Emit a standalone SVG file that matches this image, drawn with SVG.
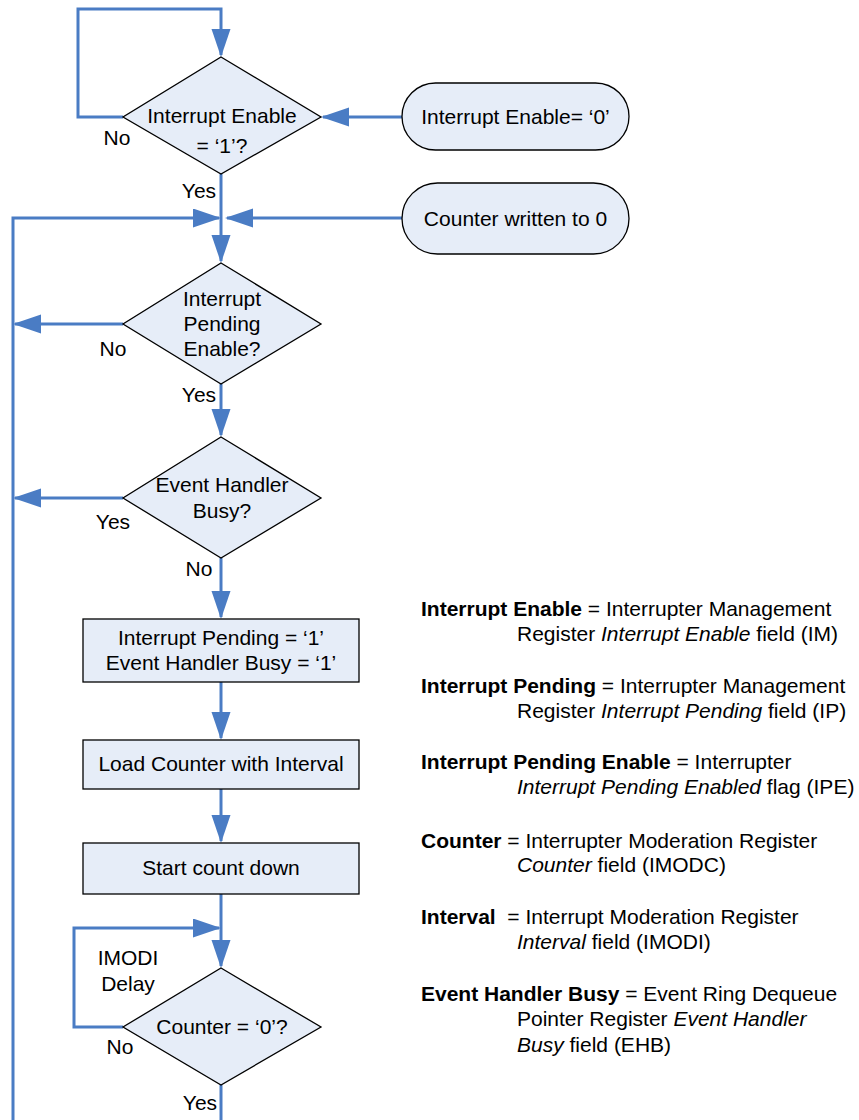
<svg xmlns="http://www.w3.org/2000/svg" width="859" height="1120" viewBox="0 0 859 1120">
<style>
text{font-family:"Liberation Sans",Arial,sans-serif;font-size:21px;fill:#000}
.c{text-anchor:middle}
.node{fill:#E6EDF8;stroke:#000;stroke-width:1.3}
.conn{fill:none;stroke:#4A7CC4;stroke-width:3}
.b{font-weight:bold}
.i{font-style:italic}
</style>
<defs>
<marker id="ah" markerUnits="userSpaceOnUse" markerWidth="30" markerHeight="20" refX="26" refY="9.5" orient="auto">
<path d="M0,0 L28,9.5 L0,19 Z" fill="#4A7CC4"/>
</marker>
</defs>
<rect width="859" height="1120" fill="#fff"/>
<g id="connectors">
<path class="conn" d="M123,117 H78 V9 H221 V55" marker-end="url(#ah)"/>
<path class="conn" d="M402,117 H323" marker-end="url(#ah)"/>
<path class="conn" d="M221,174 V261" marker-end="url(#ah)"/>
<path class="conn" d="M402,218 H227" marker-end="url(#ah)"/>
<path class="conn" d="M13,1120 V218 H219" marker-end="url(#ah)"/>
<path class="conn" d="M123,324 H15" marker-end="url(#ah)"/>
<path class="conn" d="M221,384 V435" marker-end="url(#ah)"/>
<path class="conn" d="M123,498 H15" marker-end="url(#ah)"/>
<path class="conn" d="M221,558 V617" marker-end="url(#ah)"/>
<path class="conn" d="M221,682 V738" marker-end="url(#ah)"/>
<path class="conn" d="M221,789 V841" marker-end="url(#ah)"/>
<path class="conn" d="M221,894 V966" marker-end="url(#ah)"/>
<path class="conn" d="M123,1027 H74 V928 H219" marker-end="url(#ah)"/>
<path class="conn" d="M221,1085 V1120"/>
</g>
<g id="d1">
<polygon class="node" points="221,57 321,117 221,174 123,117"/>
<text class="c" x="222" y="123">Interrupt Enable</text>
<text class="c" x="222" y="153">= ‘1’?</text>
<text class="c" x="117" y="145">No</text>
<text class="c" x="199" y="198">Yes</text>
</g>
<g id="s1">
<rect class="node" x="402" y="83" width="227" height="67" rx="33.5"/>
<text class="c" x="515.5" y="124">Interrupt Enable= ‘0’</text>
</g>
<g id="s2">
<rect class="node" x="402" y="183" width="227" height="71" rx="35.5"/>
<text class="c" x="515.5" y="226">Counter written to 0</text>
</g>
<g id="d2">
<polygon class="node" points="221,263 321,324 221,384 123,324"/>
<text class="c" x="222" y="306">Interrupt</text>
<text class="c" x="222" y="331">Pending</text>
<text class="c" x="222" y="356">Enable?</text>
<text class="c" x="113" y="356">No</text>
<text class="c" x="199" y="402">Yes</text>
</g>
<g id="d3">
<polygon class="node" points="221,437 321,498 221,558 123,498"/>
<text class="c" x="222" y="492">Event Handler</text>
<text class="c" x="222" y="518">Busy?</text>
<text class="c" x="113" y="529">Yes</text>
<text class="c" x="199" y="576">No</text>
</g>
<g id="b1">
<rect class="node" x="83" y="619" width="276" height="63"/>
<text class="c" x="221" y="645">Interrupt Pending = ‘1’</text>
<text class="c" x="221" y="670">Event Handler Busy = ‘1’</text>
</g>
<g id="b2">
<rect class="node" x="83" y="740" width="276" height="49"/>
<text class="c" x="221" y="771">Load Counter with Interval</text>
</g>
<g id="b3">
<rect class="node" x="83" y="843" width="276" height="51"/>
<text class="c" x="221" y="875">Start count down</text>
</g>
<g id="d4">
<polygon class="node" points="221,968 321,1027 221,1085 123,1027"/>
<text class="c" x="222" y="1034">Counter = ‘0’?</text>
<text class="c" x="128" y="965">IMODI</text>
<text class="c" x="128" y="991">Delay</text>
<text class="c" x="120" y="1054">No</text>
<text class="c" x="200" y="1110">Yes</text>
</g>
<g id="legend">
<text x="421" y="616"><tspan class="b">Interrupt Enable</tspan> = Interrupter Management</text>
<text x="517" y="641">Register <tspan class="i">Interrupt Enable</tspan> field (IM)</text>
<text x="421" y="693"><tspan class="b">Interrupt Pending</tspan> = Interrupter Management</text>
<text x="517" y="718">Register <tspan class="i">Interrupt Pending</tspan> field (IP)</text>
<text x="421" y="769"><tspan class="b">Interrupt Pending Enable</tspan> = Interrupter</text>
<text x="517" y="794"><tspan class="i">Interrupt Pending Enabled</tspan> flag (IPE)</text>
<text x="421" y="848"><tspan class="b">Counter</tspan> = Interrupter Moderation Register</text>
<text x="517" y="872"><tspan class="i">Counter</tspan> field (IMODC)</text>
<text x="421" y="924"><tspan class="b">Interval</tspan>&#160; = Interrupt Moderation Register</text>
<text x="517" y="949"><tspan class="i">Interval</tspan> field (IMODI)</text>
<text x="421" y="1001"><tspan class="b">Event Handler Busy</tspan> = Event Ring Dequeue</text>
<text x="517" y="1026">Pointer Register <tspan class="i">Event Handler</tspan></text>
<text x="517" y="1052"><tspan class="i">Busy</tspan> field (EHB)</text>
</g>
</svg>
